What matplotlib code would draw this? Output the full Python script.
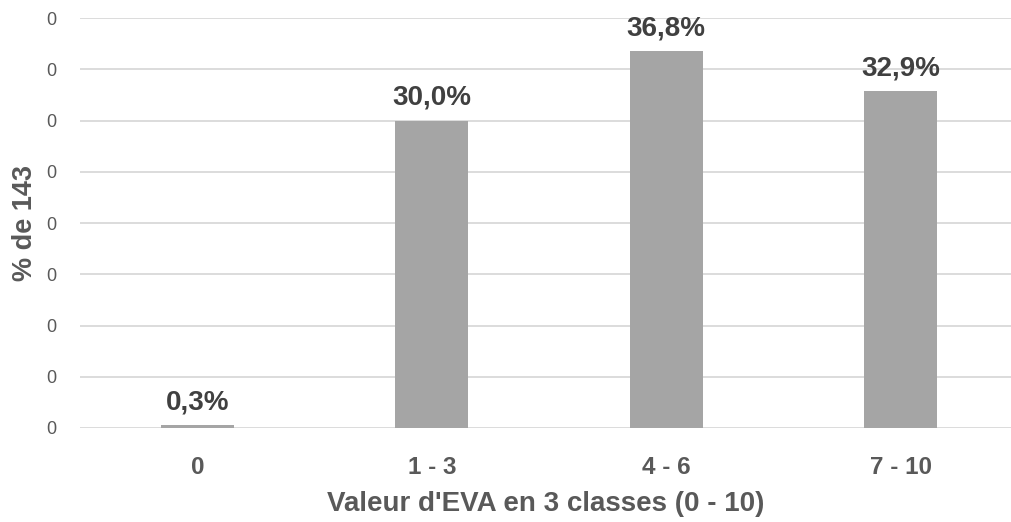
import matplotlib.pyplot as plt
from matplotlib.ticker import FuncFormatter

categories = ['0', '1 - 3', '4 - 6', '7 - 10']
values = [0.003, 0.300, 0.368, 0.329]
value_labels = ['0,3%', '30,0%', '36,8%', '32,9%']
y_ticks = [0, 0.05, 0.10, 0.15, 0.20, 0.25, 0.30, 0.35, 0.40]

plt.rcParams['font.family'] = ['Liberation Sans', 'DejaVu Sans']
text_col = '#595959'

fig = plt.figure(figsize=(10.11, 5.22), dpi=100)
ax = fig.add_axes([80 / 1011, 1 - 428 / 522, 931 / 1011, (428 - 18) / 522])

x = list(range(len(categories)))
ax.bar(x, values, width=0.31, color='#a5a5a5', zorder=3)

# value labels above the bars
for xi, v, lab in zip(x, values, value_labels):
    ax.annotate(lab, (xi, v), xytext=(0, 7), textcoords='offset points',
                ha='center', va='bottom', fontsize=20, fontweight='bold',
                color='#404040')

ax.set_xlim(-0.5, 3.47)
ax.set_ylim(0, 0.40)
ax.set_yticks(y_ticks)
ax.yaxis.set_major_formatter(FuncFormatter(lambda v, p: f'{int(v)}'))
ax.grid(axis='y', color='#d9d9d9', linewidth=1.3, zorder=0)

ax.set_xticks(x)
ax.set_xticklabels(categories, fontsize=17.5, fontweight='bold', color=text_col)
ax.tick_params(axis='y', labelsize=13, labelcolor=text_col, length=0, pad=17)
ax.tick_params(axis='x', length=0, pad=20)

for s in ax.spines.values():
    s.set_visible(False)

ax.set_xlabel("Valeur d'EVA en 3 classes (0 - 10)", fontsize=20, fontweight='bold',
              color=text_col, labelpad=9)
ax.set_ylabel('% de 143', fontsize=19.5, fontweight='bold', color=text_col, labelpad=6)

fig.savefig('out.png', dpi=100)
